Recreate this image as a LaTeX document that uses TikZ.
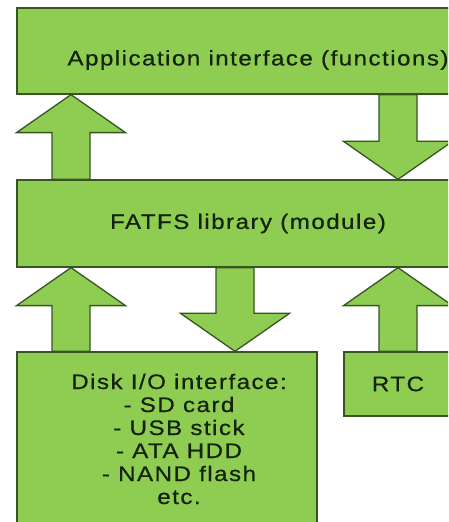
\documentclass[tikz,border=0pt]{standalone}
\usepackage{fontspec}
\setmainfont{Liberation Sans}[LetterSpace=7, FakeStretch=1.15, FakeBold=0.6]
\usepackage{xcolor}
\usepackage{tikz}
\usetikzlibrary{calc}

\definecolor{boxgreen}{RGB}{142,204,82}
\definecolor{boxline}{RGB}{55,85,35}
\definecolor{boxtext}{RGB}{20,35,10}

\tikzset{
  block/.style={draw=boxline, fill=boxgreen, line width=1.3pt, inner sep=0pt,
    text=boxtext, font=\fontsize{21}{23}\selectfont, align=center},
  blocktext/.style={inner sep=0pt, text=boxtext,
    font=\fontsize{21}{23}\selectfont, align=center},
  bigarrow/.style={draw=boxline, fill=boxgreen, line width=1.3pt, line join=miter}
}

% fat arrow from tail (#1) to tip (#2)
\newcommand{\fatarrow}[2]{%
  \draw[bigarrow] let \p1=(#1), \p2=(#2), \p3=($(#2)!38pt!(#1)$) in
    (\x1-19pt,\y1) -- (\x3-19pt,\y3) -- (\x3-54.5pt,\y3) -- (\x2,\y2)
    -- (\x3+54.5pt,\y3) -- (\x3+19pt,\y3) -- (\x1+19pt,\y1) -- cycle;
}

\begin{document}
\begin{tikzpicture}[x=1pt,y=1pt]

\useasboundingbox (0,0) rectangle (448,522);
\clip (0,0) rectangle (448,522);

\node[block, minimum width=482, minimum height=86] (app) at (258,471) {};
\node[blocktext] (apptext) at (258,462) {Application interface (functions)};
\node[block, minimum width=462, minimum height=87] (fatfs) at (248,298.5) {FATFS library (module)};
\node[block, minimum width=300, minimum height=174] (disk) at (167,83) {};
\node[blocktext] (disktext) at (179,83) {Disk I/O interface:\\- SD card\\- USB stick\\- ATA HDD\\- NAND flash\\etc.};
\node[block, minimum width=108, minimum height=64] (rtc) at (398,138) {RTC};

\coordinate (lcol) at (71,0);
\coordinate (mcol) at (235,0);
\coordinate (rcol) at (398,0);

\fatarrow{lcol |- fatfs.north}{lcol |- app.south}
\fatarrow{rcol |- app.south}{rcol |- fatfs.north}
\fatarrow{lcol |- disk.north}{lcol |- fatfs.south}
\fatarrow{mcol |- fatfs.south}{mcol |- disk.north}
\fatarrow{rcol |- rtc.north}{rcol |- fatfs.south}

\end{tikzpicture}
\end{document}
